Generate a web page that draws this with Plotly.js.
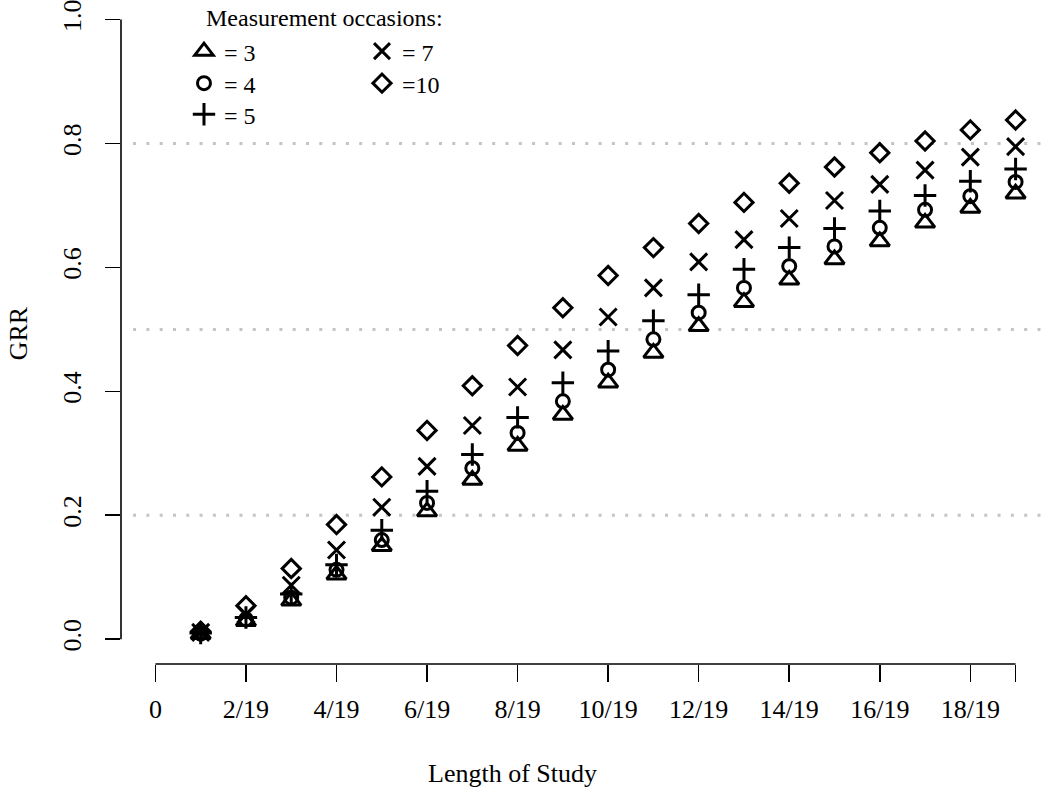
<!DOCTYPE html>
<html>
<head>
<meta charset="utf-8">
<script src="https://cdn.plot.ly/plotly-3.0.1.min.js"></script>
<style>html,body{margin:0;padding:0;background:#fff;}#chart{width:1050px;height:790px;}</style>
</head>
<body>
<div id="chart"></div>
<script>
// ---- data ----
const studyLength = [1,2,3,4,5,6,7,8,9,10,11,12,13,14,15,16,17,18,19];
const occ3  = [0.008,0.029,0.062,0.104,0.150,0.206,0.257,0.312,0.362,0.414,0.462,0.505,0.544,0.580,0.613,0.642,0.672,0.696,0.719];
const occ4  = [0.009,0.032,0.067,0.112,0.160,0.220,0.276,0.333,0.384,0.435,0.484,0.527,0.567,0.602,0.634,0.664,0.693,0.715,0.738];
const occ5  = [0.010,0.035,0.073,0.120,0.176,0.239,0.298,0.358,0.414,0.465,0.514,0.556,0.597,0.632,0.663,0.691,0.716,0.739,0.759];
const occ7  = [0.011,0.040,0.087,0.144,0.213,0.279,0.345,0.407,0.467,0.520,0.567,0.609,0.645,0.679,0.708,0.734,0.757,0.778,0.795];
const occ10 = [0.013,0.054,0.114,0.185,0.262,0.337,0.409,0.474,0.535,0.587,0.632,0.671,0.705,0.736,0.762,0.785,0.804,0.822,0.838];
const seriesNames = ['= 3','= 4','= 5','= 7','=10'];
const xTickVals = [0,2,4,6,8,10,12,14,16,18,19];
const xTickText = ['0','2/19','4/19','6/19','8/19','10/19','12/19','14/19','16/19','18/19',''];
const yTickVals = [0,0.2,0.4,0.6,0.8,1.0];
const yTickText = ['0.0','0.2','0.4','0.6','0.8','1.0'];
const refLines = [0.2,0.5,0.8];
const legendTitle = 'Measurement occasions:';
const xTitle = 'Length of Study';
const yTitle = 'GRR';

const FONT = 'Liberation Serif, Times New Roman, serif';

function mk(y, name, symbol, size, legend){
  return {
    x: studyLength, y: y, name: name, type: 'scatter', mode: 'markers',
    legend: legend,
    marker: {symbol: symbol, size: size, color: 'black', line: {color: 'black', width: 3}},
    hoverinfo: 'skip'
  };
}
const traces = [
  mk(occ3,  seriesNames[0], 'triangle-up-open', 17, 'legend'),
  mk(occ4,  seriesNames[1], 'circle-open', 13, 'legend2'),
  mk(occ5,  seriesNames[2], 'cross-thin-open', 16, 'legend3'),
  mk(occ7,  seriesNames[3], 'x-thin-open', 17, 'legend4'),
  mk(occ10, seriesNames[4], 'diamond-open', 14, 'legend5')
];

const shapes = [];
refLines.forEach(v => shapes.push({
  type: 'line', xref: 'paper', yref: 'y', x0: 0.013, x1: 1, y0: v, y1: v,
  line: {color: '#c4c4c4', width: 3, dash: '3px,10.3px'}, layer: 'below'
}));
// R-style axis lines (only spanning the data range)
shapes.push({type:'line', xref:'x', yref:'paper', x0: xTickVals[0], x1: xTickVals[xTickVals.length-1], y0: 0, y1: 0, line:{color:'black', width:1.6}});
shapes.push({type:'line', xref:'paper', yref:'y', x0: 0, x1: 0, y0: yTickVals[0], y1: yTickVals[yTickVals.length-1], line:{color:'black', width:1.6}});

function leg(x, y){
  return {
    x: x, y: y, xanchor: 'left', yanchor: 'top',
    bgcolor: 'rgba(0,0,0,0)', borderwidth: 0,
    font: {family: FONT, size: 24, color: 'black'},
    tracegroupgap: 0, itemwidth: 30
  };
}

const layout = {
  width: 1050, height: 790,
  margin: {l: 121, r: 0, t: 3, b: 126, pad: 0},
  paper_bgcolor: 'white', plot_bgcolor: 'white',
  font: {family: FONT, color: 'black', size: 26},
  showlegend: true,
  xaxis: {
    range: [-0.76, 19.76], showgrid: false, zeroline: false, showline: false,
    ticks: 'outside', ticklen: 17, tickwidth: 1.6, tickcolor: 'black',
    tickmode: 'array', tickvals: xTickVals, ticktext: xTickText,
    tickfont: {family: FONT, size: 26, color: 'black'},
    ticklabelstandoff: 5
  },
  yaxis: {
    range: [-0.04, 1.0268], showgrid: false, zeroline: false, showline: false,
    ticks: 'outside', ticklen: 15, tickwidth: 1.6, tickcolor: 'black',
    tickmode: 'array', tickvals: yTickVals, ticktext: yTickText, tickangle: -90,
    tickfont: {family: FONT, size: 26, color: 'black'},
    ticklabelstandoff: 14, ticklabeloverflow: 'allow',
    title: {text: yTitle, font: {family: FONT, size: 26, color: 'black'}, standoff: 22}
  },
  shapes: shapes,
  annotations: [{
    text: xTitle, xref: 'paper', yref: 'paper', x: 0.421, y: -0.166,
    xanchor: 'center', yanchor: 'middle', showarrow: false,
    font: {family: FONT, size: 26, color: 'black'}
  }, {
    text: legendTitle, xref: 'paper', yref: 'paper', x: 0.0904, y: 0.9773,
    xanchor: 'left', yanchor: 'middle', showarrow: false, borderpad: 0,
    font: {family: FONT, size: 24, color: 'black'}
  }],
  legend:  leg(0.0678, 0.9606),
  legend2: leg(0.0678, 0.9122),
  legend3: leg(0.0678, 0.8652),
  legend4: leg(0.2594, 0.9606),
  legend5: leg(0.2594, 0.9122)
};

Plotly.newPlot('chart', traces, layout, {displayModeBar: false, staticPlot: true});
</script>
</body>
</html>
